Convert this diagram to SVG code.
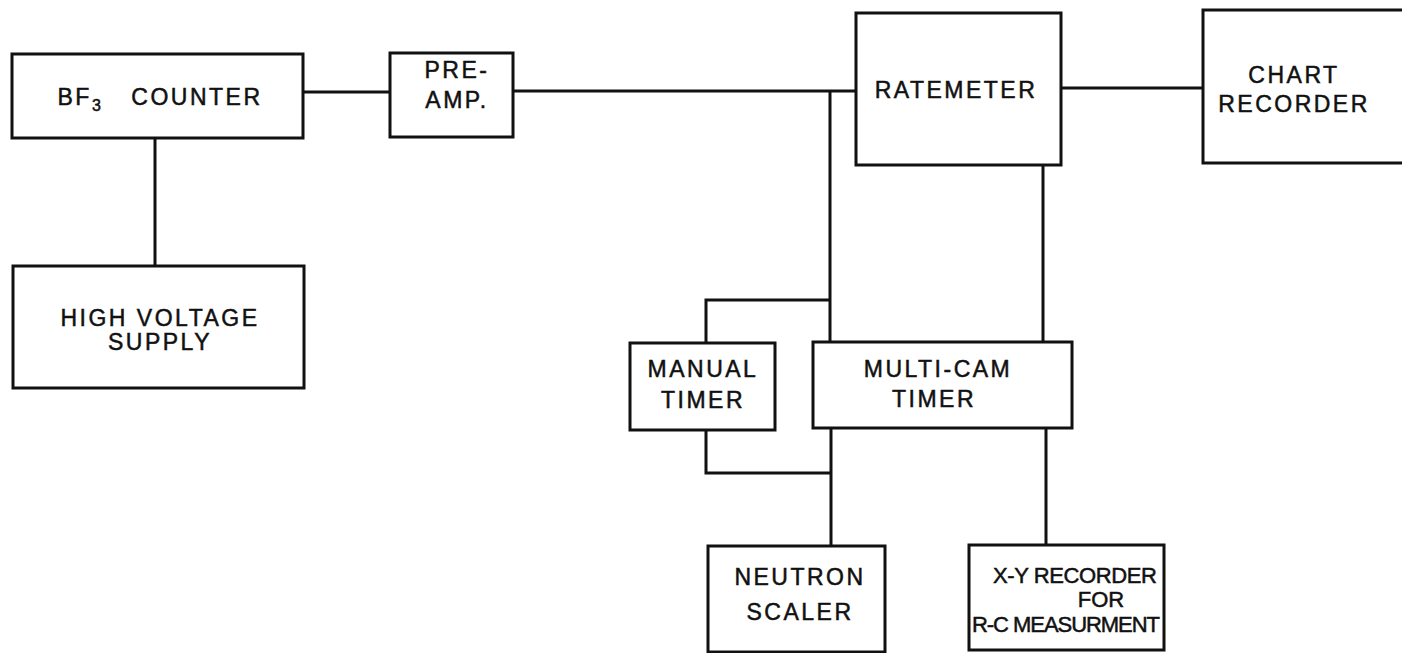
<svg xmlns="http://www.w3.org/2000/svg" width="1402" height="653" viewBox="0 0 1402 653">
<style>
.box{fill:none;stroke:#111;stroke-width:3}
.wire{fill:none;stroke:#111;stroke-width:3}
text{font-family:"Liberation Sans",Arial,sans-serif;font-size:23px;fill:#111;stroke:#111;stroke-width:0.5;text-anchor:middle;letter-spacing:2.5px}
.tight{letter-spacing:0;font-size:22px}
</style>
<rect width="1402" height="653" fill="#fff"/>
<g id="connectors">
<path class="wire" d="M303 92H390"/>
<path class="wire" d="M155 138V266"/>
<path class="wire" d="M513 91H856"/>
<path class="wire" d="M830 91V342"/>
<path class="wire" d="M1061 88H1203"/>
<path class="wire" d="M1043 165V342"/>
<path class="wire" d="M830 300H706V343"/>
<path class="wire" d="M706 430V473H832"/>
<path class="wire" d="M831 428V546"/>
<path class="wire" d="M1046 428V545"/>
</g>
<g id="bf3-counter">
<rect class="box" x="12" y="54" width="291" height="84"/>
<text x="160" y="105">BF<tspan font-size="16" dy="6">3</tspan><tspan dy="-6" dx="28">COUNTER</tspan></text>
</g>
<g id="pre-amp">
<rect class="box" x="390" y="53" width="123" height="84"/>
<text x="457" y="78">PRE-</text>
<text x="457" y="108">AMP.</text>
</g>
<g id="ratemeter">
<rect class="box" x="856" y="13" width="205" height="152"/>
<text x="956" y="98">RATEMETER</text>
</g>
<g id="chart-recorder">
<rect class="box" x="1203" y="10" width="205" height="153"/>
<text x="1294" y="83">CHART</text>
<text x="1294" y="112">RECORDER</text>
</g>
<g id="high-voltage-supply">
<rect class="box" x="13" y="266" width="291" height="122"/>
<text x="160" y="326">HIGH VOLTAGE</text>
<text x="160" y="350">SUPPLY</text>
</g>
<g id="manual-timer">
<rect class="box" x="630" y="343" width="145" height="87"/>
<text x="703" y="377">MANUAL</text>
<text x="703" y="408">TIMER</text>
</g>
<g id="multi-cam-timer">
<rect class="box" x="813" y="342" width="259" height="86"/>
<text x="938" y="377">MULTI-CAM</text>
<text x="934" y="407">TIMER</text>
</g>
<g id="neutron-scaler">
<rect class="box" x="708" y="546" width="177" height="106"/>
<text x="800" y="585">NEUTRON</text>
<text x="800" y="620">SCALER</text>
</g>
<g id="xy-recorder">
<rect class="box" x="969" y="545" width="195" height="105"/>
<text class="tight" x="1075" y="583" textLength="164" lengthAdjust="spacing">X-Y RECORDER</text>
<text class="tight" x="1101" y="607">FOR</text>
<text class="tight" x="1066" y="632" textLength="188" lengthAdjust="spacing">R-C MEASURMENT</text>
</g>
</svg>
